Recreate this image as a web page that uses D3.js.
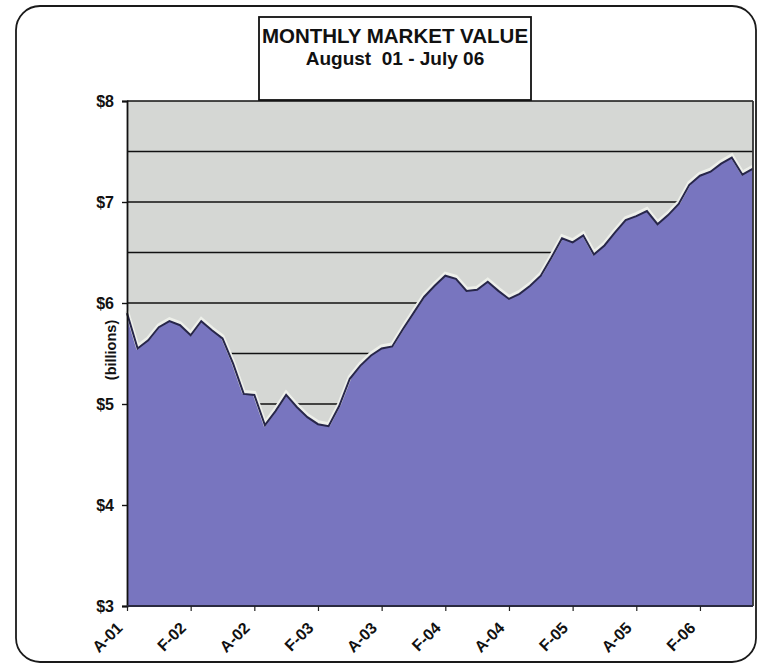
<!DOCTYPE html>
<html>
<head>
<meta charset="utf-8">
<script src="https://cdn.jsdelivr.net/npm/d3@7/dist/d3.min.js"></script>
<style>
  html, body { margin: 0; padding: 0; background: #ffffff; }
  svg { display: block; }
  text { font-family: "Liberation Sans", Arial, sans-serif; font-weight: bold; fill: #111; }
</style>
</head>
<body>
<svg id="chart" width="761" height="665"></svg>
<script>
// ---- Data ----
const months = [
  "A-01","S-01","O-01","N-01","D-01",
  "J-02","F-02","M-02","A-02","M-02","J-02","J-02","A-02","S-02","O-02","N-02","D-02",
  "J-03","F-03","M-03","A-03","M-03","J-03","J-03","A-03","S-03","O-03","N-03","D-03",
  "J-04","F-04","M-04","A-04","M-04","J-04","J-04","A-04","S-04","O-04","N-04","D-04",
  "J-05","F-05","M-05","A-05","M-05","J-05","J-05","A-05","S-05","O-05","N-05","D-05",
  "J-06","F-06","M-06","A-06","M-06","J-06","J-06"
];
const marketValue = [
  5.90, 5.55, 5.63, 5.76, 5.82, 5.78, 5.68, 5.82, 5.73, 5.65,
  5.40, 5.10, 5.09, 4.79, 4.93, 5.09, 4.97, 4.87, 4.80, 4.78,
  4.98, 5.25, 5.38, 5.48, 5.55, 5.57, 5.74, 5.90, 6.06, 6.17,
  6.27, 6.24, 6.12, 6.13, 6.21, 6.12, 6.04, 6.09, 6.17, 6.27,
  6.45, 6.64, 6.60, 6.67, 6.48, 6.57, 6.70, 6.82, 6.86, 6.91,
  6.78, 6.87, 6.98, 7.17, 7.26, 7.30, 7.38, 7.44, 7.27, 7.33
];
const yTicks = [3, 4, 5, 6, 7, 8];
const gridValues = [3.5, 4, 4.5, 5, 5.5, 6, 6.5, 7, 7.5, 8];
const xTickLabels = ["A-01","F-02","A-02","F-03","A-03","F-04","A-04","F-05","A-05","F-06"];
const titleLines = ["MONTHLY MARKET VALUE", "August  01 - July 06"];
const yAxisTitle = "(billions)";

// ---- Layout ----
const svg = d3.select("#chart");
const plot = { left: 127, right: 753, top: 101, bottom: 606 };

const data = months.map((m, i) => ({ key: i, label: m, value: marketValue[i] }));

const x = d3.scalePoint()
  .domain(data.map(d => d.key))
  .range([plot.left, plot.right])
  .padding(0);

const y = d3.scaleLinear()
  .domain([3, 8])
  .range([plot.bottom, plot.top]);

// Outer rounded frame
svg.append("rect")
  .attr("x", 16).attr("y", 6)
  .attr("width", 740).attr("height", 656)
  .attr("rx", 24).attr("ry", 24)
  .attr("fill", "#ffffff")
  .attr("stroke", "#1a1a1a")
  .attr("stroke-width", 1.8);

// Plot background
svg.append("rect")
  .attr("x", plot.left).attr("y", plot.top)
  .attr("width", plot.right - plot.left).attr("height", plot.bottom - plot.top)
  .attr("fill", "#d5d7d4");

// Gridlines
svg.append("g")
  .selectAll("line")
  .data(gridValues)
  .join("line")
  .attr("x1", plot.left).attr("x2", plot.right)
  .attr("y1", d => y(d)).attr("y2", d => y(d))
  .attr("stroke", "#111")
  .attr("stroke-width", 1.7);

// Area
const area = d3.area()
  .x(d => x(d.key))
  .y0(y(3))
  .y1(d => y(d.value));

svg.append("path")
  .datum(data)
  .attr("d", area)
  .attr("fill", "#7875bf");

// Light halo + dark outline on the top edge
const line = d3.line()
  .x(d => x(d.key))
  .y(d => y(d.value));

svg.append("path")
  .datum(data)
  .attr("d", line)
  .attr("fill", "none")
  .attr("stroke", "#eef0ea")
  .attr("stroke-width", 4)
  .attr("transform", "translate(0,-2)");

svg.append("path")
  .datum(data)
  .attr("d", line)
  .attr("fill", "none")
  .attr("stroke", "#27264a")
  .attr("stroke-width", 2);

// Right border of plot
svg.append("line")
  .attr("x1", plot.right).attr("x2", plot.right)
  .attr("y1", plot.top).attr("y2", plot.bottom)
  .attr("stroke", "#333").attr("stroke-width", 1.8);

// Y axis
const yAxis = d3.axisLeft(y)
  .tickValues(yTicks)
  .tickSize(5)
  .tickPadding(8)
  .tickFormat(d => "$" + d);

const gy = svg.append("g")
  .attr("transform", `translate(${plot.left},0)`)
  .call(yAxis);
gy.select(".domain").attr("stroke", "#111").attr("stroke-width", 1.8);
gy.selectAll(".tick line").attr("stroke", "#111").attr("stroke-width", 1.4);
gy.selectAll(".tick text")
  .style("font-size", "16px")
  .style("font-family", "'Liberation Sans', Arial, sans-serif")
  .style("font-weight", "bold")
  .attr("fill", "#111");

// X axis
const tickKeys = data.filter((d, i) => i % 6 === 0).map(d => d.key);
const xAxis = d3.axisBottom(x)
  .tickValues(tickKeys)
  .tickSize(5)
  .tickFormat((d, i) => xTickLabels[i]);

const gx = svg.append("g")
  .attr("transform", `translate(0,${plot.bottom})`)
  .call(xAxis);
gx.select(".domain").attr("stroke", "#2a2a40").attr("stroke-width", 1.8)
  .attr("d", `M${plot.left},0H${plot.right}`);
gx.selectAll(".tick line").attr("stroke", "#222").attr("stroke-width", 1.2);
gx.selectAll(".tick text")
  .style("font-size", "16px")
  .style("font-family", "'Liberation Sans', Arial, sans-serif")
  .style("font-weight", "bold")
  .attr("fill", "#111")
  .attr("text-anchor", "end")
  .attr("y", 0).attr("dy", 0)
  .attr("transform", "translate(-4,23) rotate(-45)");

// Y axis title
svg.append("text")
  .attr("transform", `translate(116,350) rotate(-90)`)
  .attr("text-anchor", "middle")
  .style("font-size", "14.5px")
  .text(yAxisTitle);

// Title box
svg.append("rect")
  .attr("x", 259).attr("y", 17)
  .attr("width", 272).attr("height", 83)
  .attr("fill", "#ffffff")
  .attr("stroke", "#111")
  .attr("stroke-width", 1.8);

svg.append("text")
  .attr("x", 395).attr("y", 43)
  .attr("text-anchor", "middle")
  .style("font-size", "20.5px")
  .text(titleLines[0]);

svg.append("text")
  .attr("x", 395).attr("y", 65)
  .attr("text-anchor", "middle")
  .style("font-size", "19px")
  .style("white-space", "pre")
  .text(titleLines[1]);
</script>
</body>
</html>
